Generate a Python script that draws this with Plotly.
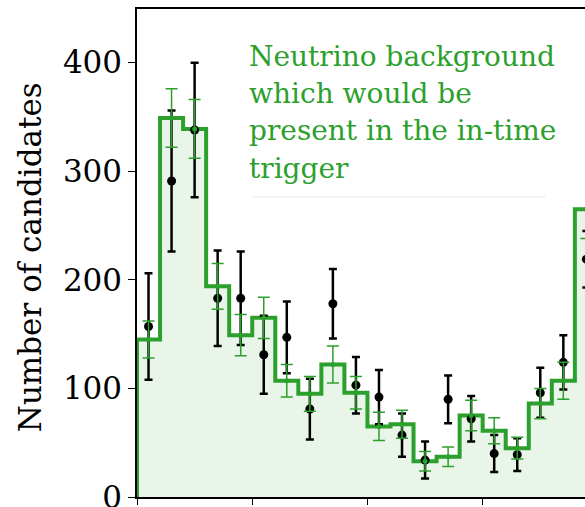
import plotly.graph_objects as go

# Bin edges (bin index units) and per-bin contents
bin_edges = list(range(0, 21))
bkg_counts = [145, 349, 339, 194, 149, 165, 107, 95, 122, 96,
              65, 67, 33, 37, 75, 61, 45, 86, 107, 265]
bkg_err_up = [17, 27, 27, 21, 19, 19, 15, 16, 17, 15,
              13, 13, 9, 9, 14, 12, 10, 14, 17, 0]
bkg_err_down = [17, 27, 27, 21, 19, 19, 15, 16, 17, 15,
                13, 13, 9, 9, 14, 12, 10, 14, 17, 27]
data_counts = [157, 291, 338, 183, 183, 131, 147, 81, 178, 103,
               92, 57, 34, 90, 72, 40, 39, 96, 124, 219]
data_errors = [49, 65, 62, 44, 43, 36, 33, 28, 32, 26,
               25, 20, 17, 22, 21, 17, 15, 23, 25, 26]
y_ticks = [0, 100, 200, 300, 400]
note_lines = ["Neutrino background", "which would be",
              "present in the in-time", "trigger"]

GREEN = "#2ca02c"
FONT = "DejaVu Serif"
Y_MAX = 449.4
PX_PER_UNIT = 488 / Y_MAX  # plot height in px over the y range

centers = [(bin_edges[i] + bin_edges[i + 1]) / 2 for i in range(len(bkg_counts))]

# Step outline: start at zero on the left edge, then one level per bin
step_x = [bin_edges[0]] + bin_edges[:-1] + [bin_edges[-1]]
step_y = [0] + bkg_counts + [bkg_counts[-1]]

fig = go.Figure()

fig.add_trace(go.Scatter(
    x=step_x, y=step_y, mode="lines",
    line=dict(color=GREEN, width=4, shape="hv"),
    fill="tozeroy", fillcolor="rgba(44,160,44,0.11)",
    hoverinfo="skip", showlegend=False,
))

fig.add_trace(go.Scatter(
    x=centers, y=data_counts, mode="markers",
    marker=dict(color="black", size=9),
    error_y=dict(type="data", array=data_errors, color="black",
                 thickness=2.5, width=4),
    showlegend=False,
))

fig.add_trace(go.Scatter(
    x=centers, y=bkg_counts, mode="markers",
    marker=dict(color=GREEN, size=5),
    error_y=dict(type="data", symmetric=False, array=bkg_err_up,
                 arrayminus=bkg_err_down, color=GREEN,
                 thickness=1.5, width=6),
    showlegend=False,
))

# Multi-line green note, one annotation per line for even spacing
top_px = 38.0
line_px = 37.2
for i, line in enumerate(note_lines):
    y_val = Y_MAX - (top_px + i * line_px - 9) / PX_PER_UNIT
    fig.add_annotation(
        x=4.76, y=y_val, xref="x", yref="y",
        xanchor="left", yanchor="top", align="left",
        text=line, showarrow=False,
        font=dict(family=FONT, size=28, color=GREEN),
    )

fig.add_shape(
    type="line", xref="x", yref="y",
    x0=4.98, x1=17.75, y0=276.3, y1=276.3,
    line=dict(color="#ebebeb", width=1),
)

fig.add_annotation(
    x=-0.237, y=0.491, xref="paper", yref="paper",
    xanchor="center", yanchor="middle",
    text="Number of candidates", textangle=-90,
    showarrow=False,
    font=dict(family=FONT, size=31, color="black"),
)

fig.update_layout(
    width=585, height=507,
    margin=dict(l=137, r=0, t=9, b=10, autoexpand=False),
    paper_bgcolor="white", plot_bgcolor="white",
    font=dict(family=FONT, color="black"),
)

fig.update_xaxes(
    range=[0, 19.44], tickvals=[0, 5, 10, 15], showticklabels=False,
    ticks="outside", ticklen=6, tickwidth=1.2, tickcolor="black",
    showline=True, linecolor="black", linewidth=1.5, mirror=True,
    showgrid=False, zeroline=False, automargin=False,
)

fig.update_yaxes(
    range=[0, Y_MAX], tickvals=y_ticks,
    ticks="outside", ticklen=7, tickwidth=1.2, tickcolor="black",
    tickfont=dict(family=FONT, size=31, color="black"),
    ticklabeloverflow="allow",
    showline=True, linecolor="black", linewidth=1.5,
    showgrid=False, zeroline=False, automargin=False,
)

fig.write_html("out.html")
